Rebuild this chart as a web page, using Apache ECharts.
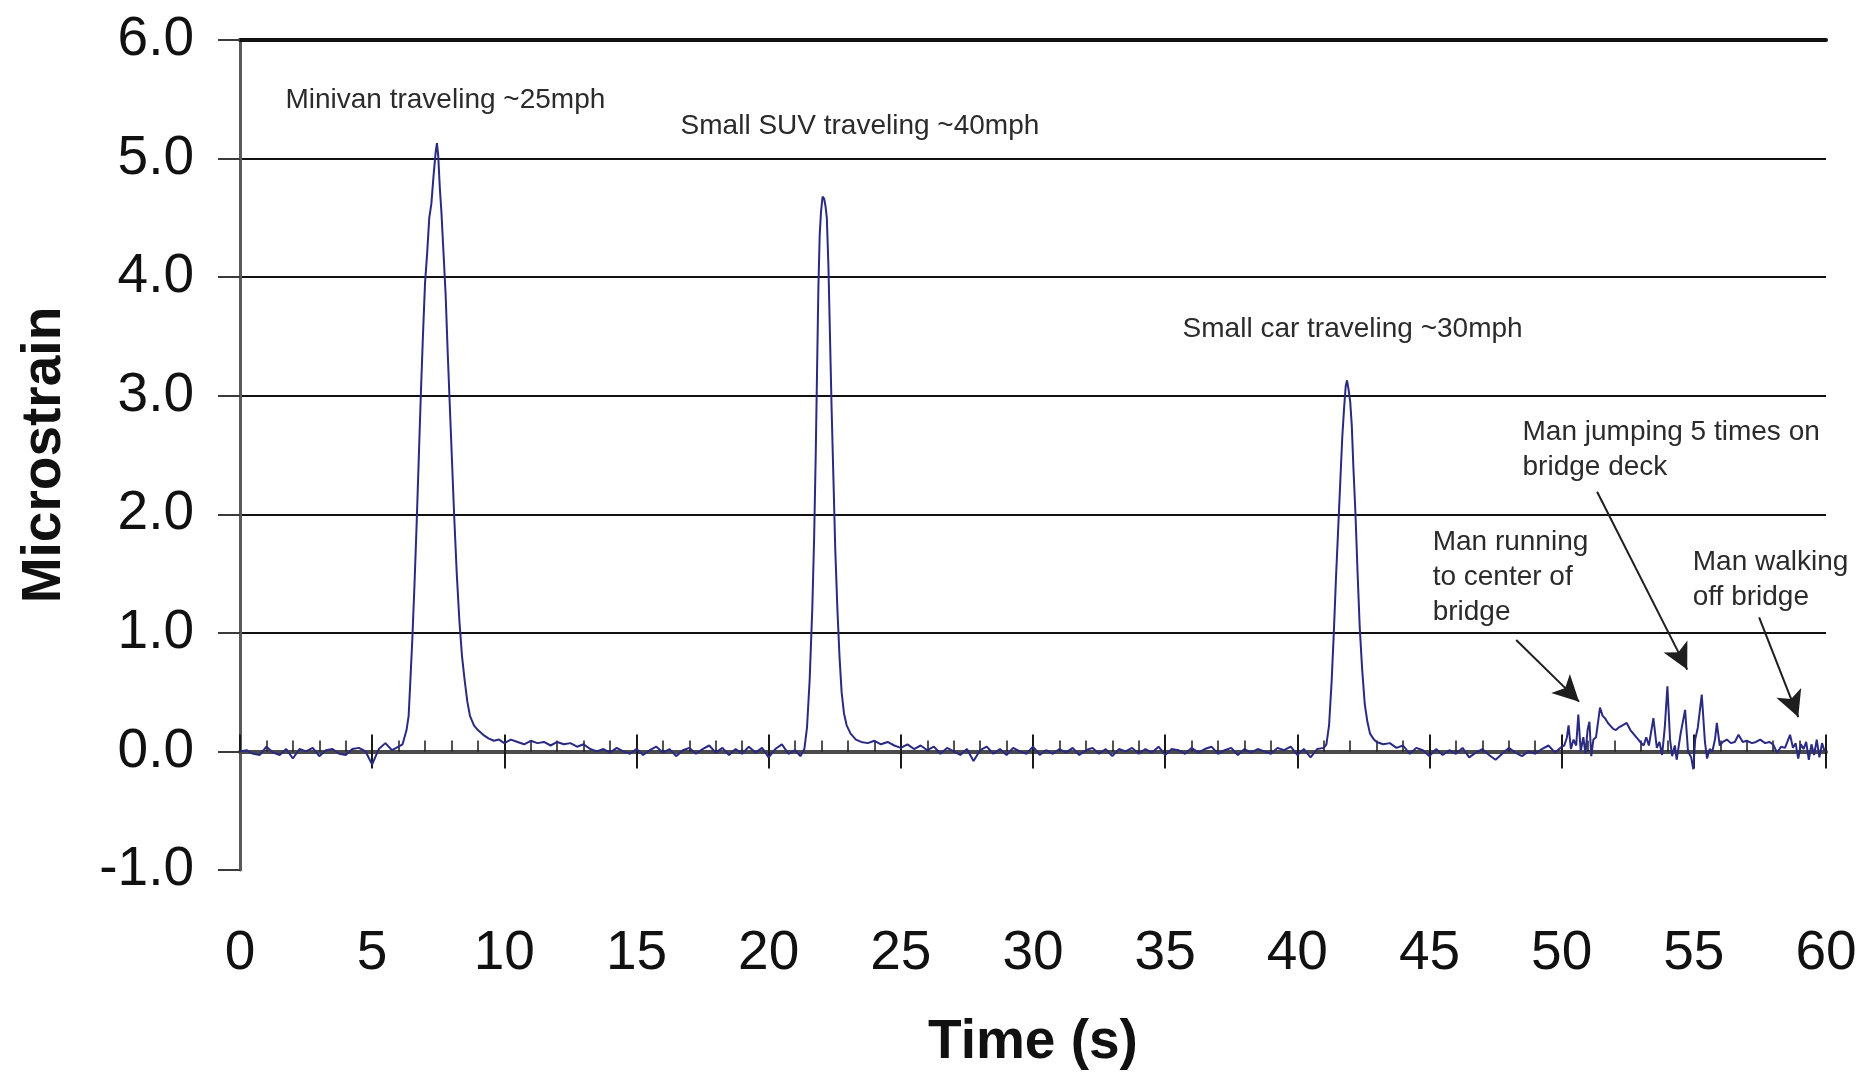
<!DOCTYPE html>
<html>
<head>
<meta charset="utf-8">
<script src="https://cdn.jsdelivr.net/npm/echarts@6/dist/echarts.min.js"></script>
<style>
html,body{margin:0;padding:0;background:#fff;}
#chart{width:1864px;height:1074px;}
</style>
</head>
<body>
<div id="chart"></div>
<script>
// ---- data: [time (s), microstrain] ----
const quietStart = [[0,0.00],[0.25,0.01],[0.5,-0.02],[0.75,-0.03],[1,0.04],[1.25,-0.01],[1.5,-0.03],[1.75,0.02],[2,-0.06],[2.25,0.02],[2.5,0.00],[2.75,0.03],[3,-0.04],[3.25,0.01],[3.5,0.02],[3.75,-0.02],[4,-0.03],[4.25,0.02],[4.5,0.03],[4.75,0.00],[5,-0.11],[5.25,0.02],[5.5,0.07],[5.75,0.01],[6,0.04]];
const minivanPass = [[6.15,0.06],[6.3,0.18],[6.38,0.3],[6.45,0.62],[6.52,0.95],[6.6,1.4],[6.68,1.9],[6.76,2.45],[6.84,3.0],[6.92,3.5],[7.0,3.95],[7.08,4.2],[7.16,4.5],[7.24,4.62],[7.32,4.85],[7.4,5.05],[7.45,5.13],[7.5,5.02],[7.56,4.75],[7.62,4.55],[7.7,4.2],[7.78,3.85],[7.86,3.35],[7.94,2.9],[8.02,2.45],[8.1,2.0],[8.2,1.5],[8.3,1.1],[8.4,0.8],[8.5,0.6],[8.6,0.42],[8.7,0.3],[8.85,0.22],[9.0,0.18],[9.2,0.14],[9.4,0.11],[9.6,0.09]];
const minivanTail = [[9.8,0.1],[10,0.07],[10.25,0.1],[10.5,0.08],[10.75,0.06],[11,0.09],[11.25,0.07],[11.5,0.08],[11.75,0.05],[12,0.08],[12.25,0.06],[12.5,0.07],[12.75,0.04],[13,0.06],[13.25,0.02],[13.5,0.0],[13.75,0.02]];
const quietMid1 = [[14,-0.01],[14.25,0.03],[14.5,0.0],[14.75,-0.02],[15,0.02],[15.25,-0.03],[15.5,0.01],[15.75,0.04],[16,-0.01],[16.25,0.02],[16.5,-0.04],[16.75,0.01],[17,0.03],[17.25,-0.02],[17.5,0.02],[17.75,0.05],[18,-0.01],[18.25,0.03],[18.5,-0.03],[18.75,0.02],[19,-0.02],[19.25,0.04],[19.5,-0.01],[19.75,0.03],[20,-0.05],[20.25,0.02],[20.5,0.06],[20.75,-0.02],[21,0.01],[21.2,-0.04]];
const suvPass = [[21.35,0.02],[21.45,0.2],[21.55,0.6],[21.65,1.2],[21.72,1.8],[21.78,2.5],[21.83,3.2],[21.88,3.9],[21.93,4.35],[21.98,4.55],[22.04,4.68],[22.1,4.66],[22.15,4.6],[22.2,4.5],[22.26,4.1],[22.32,3.5],[22.38,2.9],[22.45,2.3],[22.52,1.7],[22.6,1.2],[22.68,0.8],[22.76,0.5],[22.85,0.32],[22.95,0.22],[23.1,0.15],[23.3,0.1],[23.5,0.08]];
const quietMid2 = [[23.75,0.07],[24,0.09],[24.25,0.06],[24.5,0.08],[24.75,0.05],[25,0.03],[25.25,0.06],[25.5,0.02],[25.75,0.05],[26,0.01],[26.25,0.04],[26.5,-0.02],[26.75,0.03],[27,0.0],[27.25,-0.03],[27.5,0.02],[27.75,-0.08],[28,0.01],[28.25,0.04],[28.5,-0.02],[28.75,0.02],[29,-0.03],[29.25,0.03],[29.5,0.0],[29.75,-0.02],[30,0.04],[30.25,-0.03],[30.5,0.01],[30.75,-0.02],[31,0.02],[31.25,-0.01],[31.5,0.03],[31.75,-0.03],[32,0.01],[32.25,0.03],[32.5,-0.02],[32.75,0.02],[33,-0.04],[33.25,0.02],[33.5,0.0],[33.75,0.03],[34,-0.02],[34.25,0.02],[34.5,-0.01],[34.75,0.04],[35,-0.03],[35.25,0.02],[35.5,0.01],[35.75,-0.02],[36,0.03],[36.25,-0.01],[36.5,0.02],[36.75,0.04],[37,-0.02],[37.25,0.01],[37.5,0.03],[37.75,-0.03],[38,0.02],[38.25,-0.01],[38.5,0.02],[38.75,0.0],[39,-0.02],[39.25,0.03],[39.5,0.01],[39.75,0.04],[40,-0.03],[40.25,0.02],[40.5,-0.05],[40.75,0.02],[41,0.03]];
const carPass = [[41.1,0.06],[41.2,0.22],[41.3,0.6],[41.38,1.0],[41.46,1.45],[41.55,1.9],[41.63,2.3],[41.7,2.65],[41.77,2.9],[41.83,3.08],[41.88,3.13],[41.94,3.05],[42.0,2.95],[42.06,2.75],[42.12,2.4],[42.2,2.0],[42.28,1.5],[42.36,1.05],[42.45,0.7],[42.55,0.4],[42.65,0.25],[42.75,0.15],[42.9,0.1]];
const quietEnd = [[43,0.08],[43.25,0.06],[43.5,0.07],[43.75,0.03],[44,0.05],[44.25,-0.02],[44.5,0.03],[44.75,0.01],[45,-0.04],[45.25,0.02],[45.5,-0.03],[45.75,0.01],[46,-0.02],[46.25,0.03],[46.5,-0.05],[46.75,-0.01],[47,0.02],[47.25,-0.03],[47.5,-0.07],[47.75,-0.02],[48,0.03],[48.25,-0.01],[48.5,-0.04],[48.75,0.0],[49,-0.02],[49.25,0.02],[49.5,0.05],[49.75,-0.01],[50,0.04]];
const manOnBridge = [[50.1,0.05],[50.2,0.12],[50.26,0.22],[50.35,0.02],[50.45,0.1],[50.55,0.05],[50.63,0.31],[50.72,0.0],[50.82,0.12],[50.9,-0.02],[50.98,0.18],[51.05,0.25],[51.12,-0.04],[51.2,0.1],[51.3,0.12],[51.45,0.37],[51.55,0.3],[51.64,0.28],[51.75,0.24],[51.83,0.22],[51.95,0.19],[52.05,0.18],[52.15,0.2],[52.3,0.22],[52.46,0.24],[52.6,0.18],[52.75,0.14],[52.9,0.1],[52.97,0.08],[53.1,0.05],[53.2,0.12],[53.3,0.05],[53.47,0.28],[53.6,0.03],[53.7,0.08],[53.8,-0.03],[53.9,0.2],[54.0,0.55],[54.1,0.1],[54.18,-0.04],[54.28,0.05],[54.35,-0.07],[54.5,0.15],[54.67,0.35],[54.78,0.0],[54.9,-0.05],[54.98,-0.15],[55.05,0.1],[55.15,0.2],[55.3,0.48],[55.42,0.08],[55.5,-0.06],[55.6,0.02],[55.7,0.0],[55.8,0.1],[55.87,0.24],[55.98,0.05],[56.1,0.08],[56.25,0.1],[56.4,0.07],[56.55,0.08],[56.69,0.14],[56.85,0.08],[57.0,0.09],[57.2,0.07],[57.35,0.08],[57.51,0.1],[57.7,0.07],[57.85,0.08],[58.0,0.06],[58.15,-0.01],[58.3,0.04],[58.45,0.03],[58.64,0.14],[58.75,0.03],[58.85,0.07],[58.95,-0.06],[59.05,0.06],[59.15,0.02],[59.25,0.08],[59.35,-0.07],[59.45,0.06],[59.55,-0.03],[59.65,0.1],[59.75,-0.05],[59.85,0.07],[59.95,0.0]];

const yTicks = [-1, 0, 1, 2, 3, 4, 5, 6];
const xTicks = [0, 5, 10, 15, 20, 25, 30, 35, 40, 45, 50, 55, 60];

// annotations (left edge, vertical middle of text block)
const noteTexts = ['Minivan traveling ~25mph', 'Small SUV traveling ~40mph', 'Small car traveling ~30mph', 'Man jumping 5 times on\nbridge deck', 'Man running\nto center of\nbridge', 'Man walking\noff bridge'];
const noteTimes = [1.70, 16.65, 35.64, 48.5, 45.1, 54.94];
const noteValues = [5.49, 5.27, 3.56, 2.54, 1.47, 1.45];
// arrows: start [t, v] -> tip [t, v]
const arrowStarts = [[48.28, 0.94], [51.34, 2.19], [57.47, 1.13]];
const arrowTips = [[50.66, 0.42], [54.75, 0.69], [58.95, 0.29]];

const series = [].concat(quietStart, minivanPass, minivanTail, quietMid1, suvPass, quietMid2, carPass, quietEnd, manOnBridge);

const FONT = '"Liberation Sans", Arial, Helvetica, sans-serif';
const chart = echarts.init(document.getElementById('chart'), null, {renderer: 'canvas'});

const xBase = {
  type: 'value', min: xTicks[0], max: xTicks[xTicks.length - 1], interval: 5,
  splitLine: {show: false}
};

// lower halves of the major x ticks, which cross the zero line
const tickBelow = -0.145;
const crossTicks = xTicks.slice(1).map(t => [
  {coord: [t, 0], symbol: 'none', lineStyle: {color: '#1a1a1a', width: 2, type: 'solid'}},
  {coord: [t, tickBelow], symbol: 'none'}
]);
const arrows = arrowStarts.map((s, i) => [
  {coord: s, symbol: 'none', lineStyle: {color: '#1e1e1e', width: 2, type: 'solid'}},
  {coord: arrowTips[i], symbol: 'arrow', symbolSize: [20, 26]}
]);

chart.setOption({
  animation: false,
  backgroundColor: '#ffffff',
  grid: {left: 240, right: 38, top: 40, bottom: 204, containLabel: false, outerBoundsMode: 'none'},
  xAxis: [
    Object.assign({}, xBase, {
      axisLine: {show: true, onZero: true, onZeroAxisIndex: 0, lineStyle: {color: '#4a4a4a', width: 4}},
      axisTick: {show: true, inside: true, length: 17, lineStyle: {color: '#1a1a1a', width: 2}},
      minorTick: {show: true, splitNumber: 5, length: 11, lineStyle: {color: '#1a1a1a', width: 1.5}},
      axisLabel: {show: true, margin: 56, fontSize: 55, color: '#111', fontFamily: FONT},
      name: 'Time (s)', nameLocation: 'middle', nameGap: 145,
      nameTextStyle: {fontSize: 55, fontWeight: 'bold', color: '#111', fontFamily: FONT}
    }),
    Object.assign({}, xBase, {
      position: 'top',
      axisLine: {show: true, onZero: false, lineStyle: {color: '#111', width: 4}},
      axisTick: {show: false}, axisLabel: {show: false}
    })
  ],
  yAxis: {
    type: 'value', min: yTicks[0], max: yTicks[yTicks.length - 1], interval: 1,
    axisLine: {show: true, onZero: false, lineStyle: {color: '#5a5a5a', width: 3}},
    axisTick: {show: true, inside: false, length: 22, lineStyle: {color: '#3a3a3a', width: 2}},
    axisLabel: {margin: 46, fontSize: 55, color: '#111', fontFamily: FONT, formatter: v => v.toFixed(1)},
    splitLine: {show: true, lineStyle: {color: ['rgba(0,0,0,0)', '#111', '#111', '#111', '#111', '#111', '#111', '#111'], width: 2}},
    name: 'Microstrain', nameLocation: 'middle', nameGap: 168,
    nameTextStyle: {fontSize: 55, fontWeight: 'bold', color: '#111', fontFamily: FONT}
  },
  series: [{
    type: 'line',
    xAxisIndex: 0,
    data: series,
    showSymbol: false,
    symbol: 'none',
    lineStyle: {color: '#2a2a82', width: 2},
    z: 5,
    markPoint: {
      silent: true,
      symbol: 'circle', symbolSize: 1,
      itemStyle: {color: 'rgba(0,0,0,0)'},
      label: {show: true, position: 'right', distance: 0, fontSize: 28, lineHeight: 35, color: '#2b2b2b', fontFamily: FONT,
               formatter: p => p.name},
      data: noteTexts.map((t, i) => ({name: t, coord: [noteTimes[i], noteValues[i]]}))
    },
    markLine: {
      silent: true,
      symbol: ['none', 'none'],
      label: {show: false},
      lineStyle: {color: '#1e1e1e', width: 2, type: 'solid'},
      data: crossTicks.concat(arrows)
    }
  }]
});
</script>
</body>
</html>
